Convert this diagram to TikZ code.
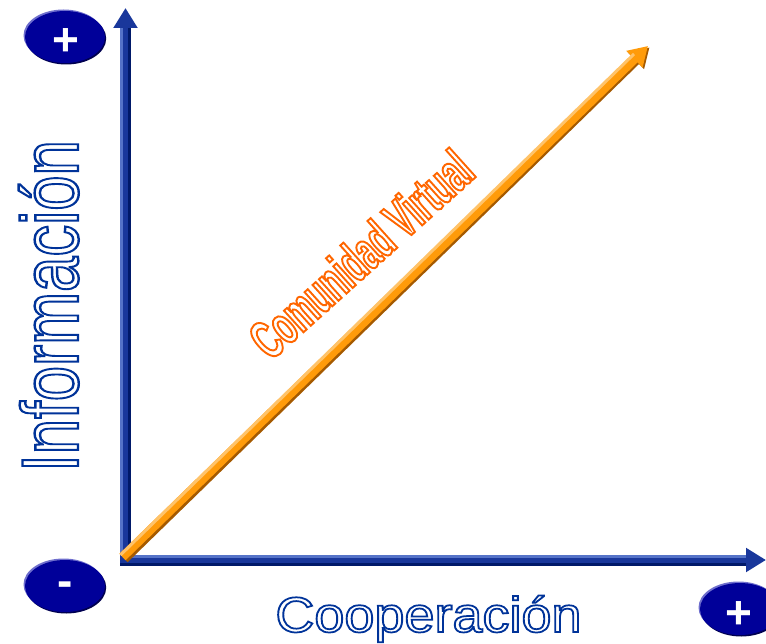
\documentclass[tikz,border=0pt]{standalone}
\usepackage{fontspec}
\setmainfont{Liberation Sans}
\newfontfamily\condfont{Liberation Sans Bold}[FakeStretch=0.57]
\usetikzlibrary{arrows.meta,shapes.geometric,shadows,calc}

\definecolor{axismid}{RGB}{25,55,155}
\definecolor{axislight}{RGB}{85,115,200}
\definecolor{axisdark}{RGB}{0,25,105}
\definecolor{orangemid}{RGB}{255,155,10}
\definecolor{orangelight}{RGB}{255,195,105}
\definecolor{orangedark}{RGB}{165,90,0}
\definecolor{signblue}{RGB}{0,0,153}
\definecolor{signrim}{RGB}{110,110,205}
\definecolor{signshade}{RGB}{0,0,80}

% texto hueco (solo contorno)
\newcommand\hollow[2]{\special{pdf:literal direct 1 Tr 1.9 w #1 RG}#2\special{pdf:literal direct 0 Tr}}

\tikzset{
  axisarrow/.style={line width=11pt,draw=axismid,-{Triangle[width=23pt,length=20pt]}},
  axisshine/.style={line width=3pt,draw=axislight},
  axisshade/.style={line width=3pt,draw=axisdark},
  diagarrow/.style={line width=9pt,draw=orangemid,-{Triangle[width=22pt,length=19pt]}},
  diagshade/.style={line width=9pt,draw=orangedark,-{Triangle[width=22pt,length=19pt]}},
  diagshine/.style={line width=3pt,draw=orangelight},
  sign/.style={ellipse,fill=signblue,minimum width=80pt,minimum height=52pt,inner sep=0pt,
    general shadow={shadow xshift=-1.5pt,shadow yshift=1.5pt,fill=signrim},
    drop shadow={shadow xshift=1.2pt,shadow yshift=-1.5pt,fill=signshade,opacity=1}},
  signtext/.style={text=white,inner sep=0pt,font=\bfseries\fontsize{46}{46}\selectfont},
  axislabel/.style={inner sep=0pt,anchor=base,font=\fontsize{54}{54}\selectfont}
}

\begin{document}
\begin{tikzpicture}[x=1pt,y=-1pt]
   \useasboundingbox (0,0) rectangle (766,644);

   % ejes
   \coordinate (O) at (125.5,560);
   \coordinate (ytip) at (125.5,8);
   \coordinate (xtip) at (766,560);
   \coordinate (dtip) at (648,46);

   \draw[axisarrow] ($(O)+(0,5.5)$) -- (ytip);
   \draw[axisshine] ($(O)+(-4,0)$) -- ($(ytip)+(-4,20)$);
   \draw[axisshade] ($(O)+(4,0)$) -- ($(ytip)+(4,20)$);

   \draw[axisarrow] ($(O)+(-5.5,0)$) -- (xtip);
   \draw[axisshine] ($(O)+(0,-4)$) -- ($(xtip)+(-20,-4)$);
   \draw[axisshade] ($(O)+(-5.5,4)$) -- ($(xtip)+(-20,4)$);

   % recta diagonal
   \draw[diagshade] ($(O)+(-1,-1)$) -- ($(dtip)+(1.5,1.5)$);
   \draw[diagarrow] ($(O)+(-3,-3)$) -- (dtip);
   \draw[diagshine] ($(O)+(-5,-5)$) -- ($(dtip)+(-14,8)$);

   % signos
   \node[sign] (plustop) at (65,37) {};
   \node[signtext] (plustoptext) at ($(plustop)+(1,5)$) {+};
   \node[sign] (minus) at (65,586) {};
   \node[signtext] (minustext) at ($(minus)+(0,3)$) {-};
   \node[sign] (plusright) at (740,609) {};
   \node[signtext] (plusrighttext) at ($(plusright)+(-1,6)$) {+};

   % rotulos
   \node[axislabel] (coop) at (428.5,632) {\scalebox{1}[0.92]{\hollow{0 0.2 0.6}{Cooperación}}};
   \node[axislabel,rotate=90,font=\fontsize{63.5}{63.5}\selectfont] (info) at (78,306)
      {\scalebox{1}[1.27]{\hollow{0 0.2 0.6}{Información}}};
   \node[inner sep=0pt,rotate=42,font=\condfont\fontsize{55}{55}\selectfont] (comvirt) at (361,254)
      {\hollow{1 0.4 0}{Comunidad Virtual}};
\end{tikzpicture}
\end{document}
